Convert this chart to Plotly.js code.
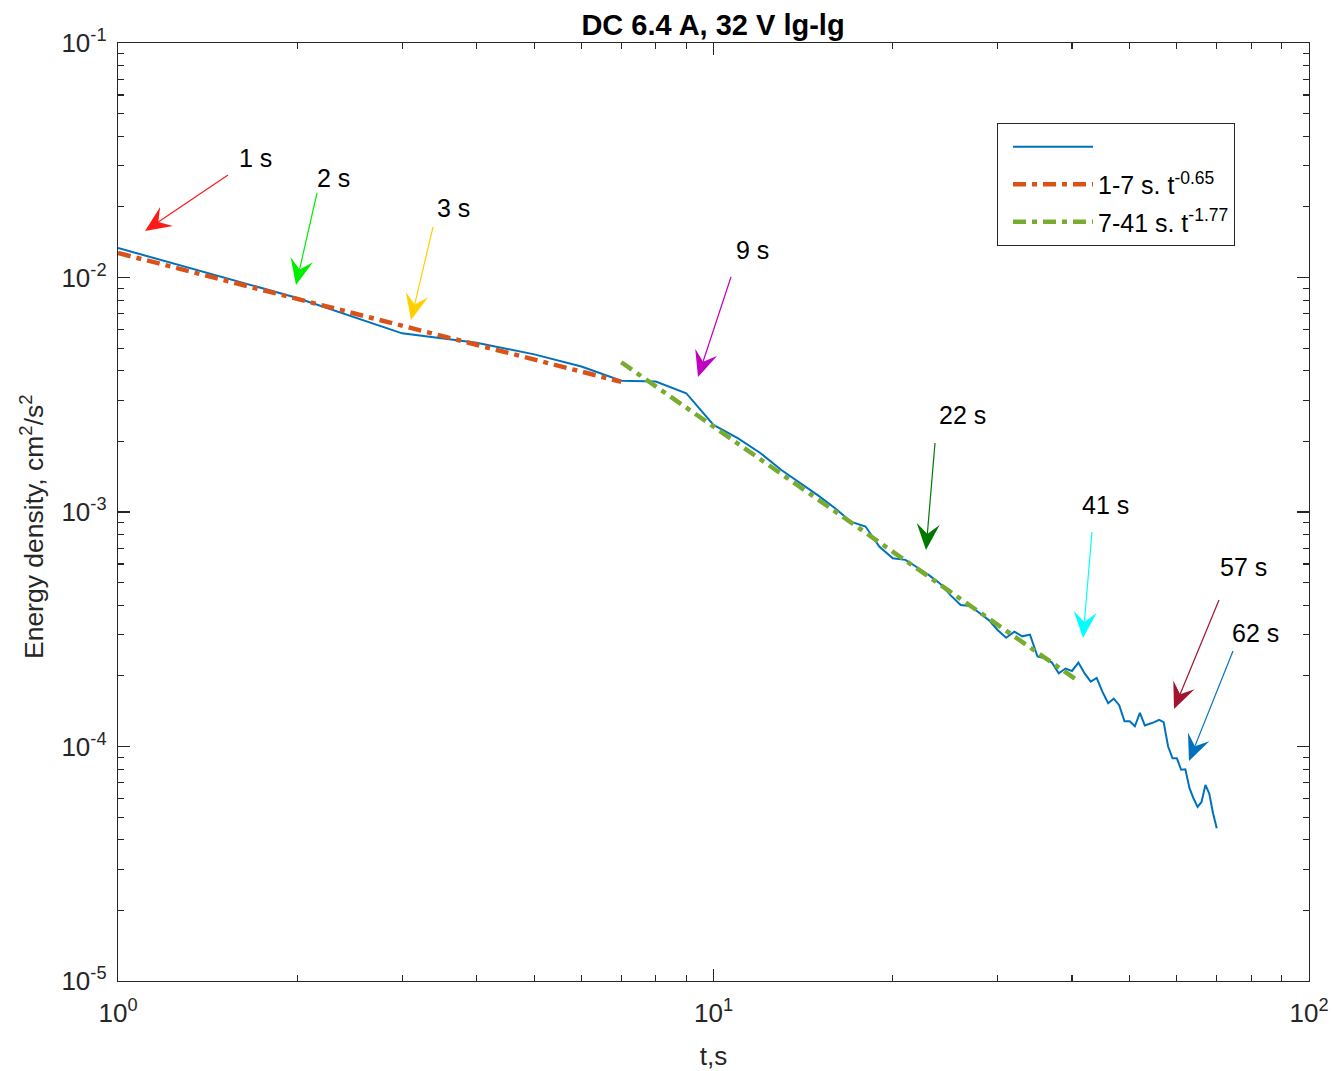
<!DOCTYPE html>
<html>
<head>
<meta charset="utf-8">
<script src="https://cdn.plot.ly/plotly-3.0.1.min.js"></script>
<style>html,body{margin:0;padding:0;background:#fff;}#chart{width:1333px;height:1071px;}</style>
</head>
<body>
<div id="chart"></div>
<script>
// ---- data ----
var timeS = [1,2,3,4,5,6,7,8,9,10,11,12,13,14,15,16,17,18,19,20,21,22,23,24,25,26,27,28,29,30,31,32,33,34,35,36,37,38,39,40,41,42,43,44,45,46,47,48,49,50,51,52,53,54,55,56,57,58,59,60,61,62,63,64,65,66,67,68,69,70];
var energy = [0.01336,0.00818,0.00578,0.00527,0.0047,0.00417,0.00363,0.0036,0.00321,0.00235,
  0.00206,0.00178,0.00151,0.001325,0.001174,0.001038,0.00091,0.000867,0.000711,0.000635,
  0.000625,0.00058,0.000538,0.000496,0.000442,0.000401,0.000397,0.00037,0.000346,0.000314,
  0.000291,0.000309,0.000295,0.0003,0.000242,0.000238,0.000228,0.000205,0.000215,0.00021,
  0.000228,0.000205,0.000189,0.000196,0.000171,0.000153,0.00016,0.00015,0.000128,0.000128,
  0.000122,0.000139,0.000123,0.000125,0.000127,0.00013,0.000127,0.0001,0.000089,0.000089,
  0.0000796,0.00008,0.0000664,0.00006,0.0000553,0.000058,0.0000686,0.000063,0.0000519,0.0000448];
var fit1T = [1, 7];
var fit1E = [0.01272, 0.00359];
var fit2T = [7, 41];
var fit2E = [0.00435, 0.00019];
var fitNames = ['1-7 s. t<sup>-0.65</sup>', '7-41 s. t<sup>-1.77</sup>'];
var markerLabels = ['1 s','2 s','3 s','9 s','22 s','41 s','57 s','62 s'];
var xTickVals = [1, 10, 100];
var xTickText = ['10<sup>0</sup>','10<sup>1</sup>','10<sup>2</sup>'];
var yTickVals = [1e-5, 1e-4, 1e-3, 1e-2, 1e-1];
var yTickText = ['10<sup>-5</sup>','10<sup>-4</sup>','10<sup>-3</sup>','10<sup>-2</sup>','10<sup>-1</sup>'];

// ---- styling / positions (pixels in the 1333x1071 page) ----
var L = 118, R = 1309, T = 43, B = 981;
function px(x){ return (x - L) / (R - L); }
function py(y){ return (B - y) / (B - T); }
var FONT = 'Liberation Sans, Arial, Helvetica, sans-serif';
var markerColors = ['#ff1a1a','#00ee00','#ffd000','#c000c0','#007800','#00ffff','#a2142f','#0072bd'];
// [textX, textY, tailX, tailY, tipX, tipY]
var markerPos = [
  [255,158, 228,175, 145,231],
  [333,178, 317,193, 296,285],
  [453,208, 433,227, 411,320],
  [752,250, 731,277, 698,377],
  [962,415, 935,443, 926,550],
  [1105,505, 1092,532, 1083,638],
  [1243,567, 1219,600, 1174,709],
  [1255,633, 1233,651, 1189,761]
];
var HEAD_LEN = 26, HEAD_HALF = 11.5, HEAD_NOTCH = 16;

var minorVals = [];
[1,10].forEach(function(d){ for (var k=2;k<=9;k++) minorVals.push(d*k); });
var minorYVals = [];
[1e-5,1e-4,1e-3,1e-2].forEach(function(d){ for (var k=2;k<=9;k++) minorYVals.push(d*k); });

var traces = [
  {x: timeS, y: energy, type:'scatter', mode:'lines', name:' ', legendgroup:'a',
   line:{color:'#0072bd', width:2}},
  {x: fit1T, y: fit1E, type:'scatter', mode:'lines', name: fitNames[0], legendgroup:'b',
   line:{color:'#d95319', width:4.5, dash:'13px,6px,5px,6px'}},
  {x: fit2T, y: fit2E, type:'scatter', mode:'lines', name: fitNames[1], legendgroup:'c',
   line:{color:'#77ac30', width:4.5, dash:'13px,6px,5px,6px'}}
];

var annotations = [];
var shapes = [];
function pt(x, y){ return px(x).toFixed(5) + ',' + py(y).toFixed(5); }
markerLabels.forEach(function(lbl, i){
  var p = markerPos[i];
  var dx = p[4]-p[2], dy = p[5]-p[3];
  var len = Math.sqrt(dx*dx+dy*dy);
  var ux = dx/len, uy = dy/len, nx = -uy, ny = ux;
  var tx = p[4], ty = p[5];
  var bx = tx - ux*HEAD_LEN, by = ty - uy*HEAD_LEN;
  var mx = tx - ux*HEAD_NOTCH, my = ty - uy*HEAD_NOTCH;
  shapes.push({type:'line', xref:'paper', yref:'paper',
    x0: px(p[2]), y0: py(p[3]), x1: px(mx), y1: py(my),
    line:{color: markerColors[i], width:1.2}});
  shapes.push({type:'path', xref:'paper', yref:'paper',
    path: 'M' + pt(tx,ty) + 'L' + pt(bx + nx*HEAD_HALF, by + ny*HEAD_HALF) +
          'L' + pt(mx, my) + 'L' + pt(bx - nx*HEAD_HALF, by - ny*HEAD_HALF) + 'Z',
    fillcolor: markerColors[i], line:{width:0}});
  annotations.push({xref:'paper', yref:'paper', x: px(p[0]), y: py(p[1]),
    text: lbl, showarrow:false, xanchor:'center', yanchor:'middle',
    font:{family:FONT, size:25, color:'#000'}});
});

var axisCommon = {
  type:'log', showgrid:false, zeroline:false, showline:true, mirror:'allticks',
  linecolor:'#262626', linewidth:1.3, ticks:'inside', ticklen:12, tickwidth:1.3,
  tickcolor:'#262626', tickfont:{family:FONT, size:26, color:'#262626'},
  tickmode:'array'
};

var layout = {
  width:1333, height:1071,
  margin:{l:L, r:1333-R, t:T, b:1071-B, pad:0},
  paper_bgcolor:'#fff', plot_bgcolor:'#fff',
  font:{family:FONT, size:24, color:'#262626'},
  title:{text:'<b>DC 6.4 A, 32 V lg-lg</b>', x:px(713), xref:'paper', xanchor:'center',
         y:1-25/1071, yref:'container', yanchor:'middle',
         font:{family:FONT, size:29, color:'#000'}},
  xaxis: Object.assign({}, axisCommon, {
    range:[0,2], tickvals:xTickVals, ticktext:xTickText, ticklabelstandoff:8,
    minor:{tickvals:minorVals, ticks:'inside', ticklen:6, tickwidth:1.1, tickcolor:'#262626', showgrid:false},
    title:{text:'t,s', standoff:22, font:{family:FONT, size:26, color:'#262626'}}
  }),
  yaxis: Object.assign({}, axisCommon, {
    range:[-5,-1], tickvals:yTickVals, ticktext:yTickText, ticklabelstandoff:5,
    minor:{tickvals:minorYVals, ticks:'inside', ticklen:6, tickwidth:1.1, tickcolor:'#262626', showgrid:false},
    title:{text:'Energy density, cm<sup>2</sup>/s<sup>2</sup>&nbsp;&nbsp;&nbsp;&nbsp;', standoff:10,
           font:{family:FONT, size:26.5, color:'#262626'}}
  }),
  showlegend:true,
  legend:{x:px(997), y:py(123), xanchor:'left', yanchor:'top', xref:'paper', yref:'paper',
    bgcolor:'#fff', bordercolor:'#262626', borderwidth:1, indentation:10,
    font:{family:FONT, size:25, color:'#000'}, itemwidth:80, tracegroupgap:2},
  shapes: shapes,
  annotations: annotations
};

Plotly.newPlot('chart', traces, layout, {displayModeBar:false, staticPlot:true});
</script>
</body>
</html>
